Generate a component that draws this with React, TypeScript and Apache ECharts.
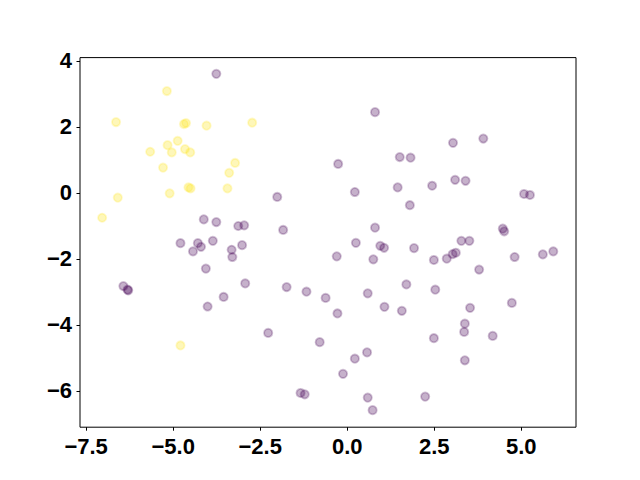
import React, { useEffect, useRef } from "react";
import * as echarts from "echarts";

// Class 1 (yellow) points [x, y]
const yellowPoints: [number, number][] = [
  [-5.18, 3.09], [-6.64, 2.15], [-4.69, 2.09], [-4.63, 2.12], [-4.04, 2.04],
  [-2.73, 2.13], [-5.16, 1.45], [-4.87, 1.58], [-5.66, 1.25], [-5.04, 1.23],
  [-4.66, 1.33], [-4.51, 1.23], [-5.29, 0.77], [-3.22, 0.91], [-3.39, 0.61],
  [-4.56, 0.17], [-4.50, 0.14], [-3.44, 0.14], [-5.10, -0.01], [-6.59, -0.14],
  [-7.04, -0.75], [-4.79, -4.62],
];

// Class 0 (purple) points [x, y]
const purplePoints: [number, number][] = [
  [-3.76, 3.61], [0.80, 2.45], [-0.26, 0.88], [1.51, 1.09], [1.82, 1.07],
  [0.22, 0.03], [1.45, 0.17], [-2.01, -0.12], [1.80, -0.37], [-4.12, -0.80],
  [-3.76, -0.88], [-3.13, -1.00], [-2.96, -0.98], [-1.84, -1.12], [0.80, -1.05],
  [-4.79, -1.52], [-4.29, -1.52], [-4.20, -1.63], [-4.43, -1.77], [-3.86, -1.45],
  [-3.32, -1.72], [-3.30, -1.94], [-3.02, -1.58], [0.25, -1.51], [0.95, -1.60],
  [1.06, -1.66], [1.92, -1.67], [-0.30, -1.92], [0.75, -2.01], [-4.06, -2.29],
  [-6.43, -2.82], [-6.31, -2.93], [-6.29, -2.95], [-2.93, -2.74], [-3.55, -3.15],
  [-4.01, -3.44], [-1.74, -2.85], [-1.17, -2.99], [-0.62, -3.18], [0.59, -3.04],
  [1.70, -2.77], [1.07, -3.45], [1.57, -3.57], [-0.28, -3.65], [-2.27, -4.24],
  [-0.79, -4.52], [0.57, -4.83], [0.22, -5.02], [-0.12, -5.48], [-1.34, -6.06],
  [-1.22, -6.10], [0.59, -6.20], [0.73, -6.58], [3.04, 1.52], [3.91, 1.65],
  [3.10, 0.40], [3.40, 0.37], [2.44, 0.22], [5.08, -0.03], [5.25, -0.06],
  [4.47, -1.08], [4.51, -1.16], [3.28, -1.45], [3.51, -1.45], [2.49, -2.03],
  [2.86, -1.99], [3.03, -1.85], [3.12, -1.81], [4.81, -1.94], [5.62, -1.86],
  [5.92, -1.77], [3.79, -2.32], [2.53, -2.93], [3.53, -3.48], [4.73, -3.33],
  [3.38, -3.96], [3.36, -4.21], [2.49, -4.40], [4.18, -4.33], [3.38, -5.07],
  [2.24, -6.17],
];

const xTicks = [-7.5, -5.0, -2.5, 0.0, 2.5, 5.0];
const yTicks = [-6, -4, -2, 0, 2, 4];

const fmt = (v: number, digits: number) =>
  v.toFixed(digits).replace("-", "\u2212");

export default function App() {
  const ref = useRef<HTMLDivElement>(null);
  useEffect(() => {
    document.body.style.margin = "0";
    if (!ref.current) return;
    const chart = echarts.init(ref.current, undefined, { renderer: "svg" });
    const labelStyle = {
      color: "#000",
      fontSize: 22,
      fontWeight: "bold" as const,
      fontFamily: "Liberation Sans, Arial, sans-serif",
    };
    const tickStyle = { show: true, inside: false, length: 3.5, lineStyle: { color: "#000", width: 1 } };
    chart.setOption({
      animation: false,
      backgroundColor: "#fff",
      grid: {
        left: 80,
        right: 64,
        top: 57.6,
        bottom: 52.8,
        show: true,
        borderColor: "#000",
        borderWidth: 1,
        backgroundColor: "transparent",
      },
      xAxis: {
        type: "value",
        min: -7.676,
        max: 6.573,
        splitLine: { show: false },
        axisLine: { show: false, onZero: false },
        axisTick: { ...tickStyle, customValues: xTicks },
        axisLabel: {
          ...labelStyle,
          margin: 8,
          customValues: xTicks,
          formatter: (v: number) => fmt(v, 1),
        },
      },
      yAxis: {
        type: "value",
        min: -7.097,
        max: 4.103,
        splitLine: { show: false },
        axisLine: { show: false, onZero: false },
        axisTick: { ...tickStyle, customValues: yTicks },
        axisLabel: {
          ...labelStyle,
          margin: 8,
          customValues: yTicks,
          formatter: (v: number) => fmt(v, 0),
        },
      },
      series: [
        {
          type: "scatter",
          data: purplePoints,
          symbol: "circle",
          symbolSize: 8.3,
          itemStyle: {
            color: "rgba(68,1,84,0.38)",
            borderColor: "rgba(68,1,84,0.3)",
            borderWidth: 1.8,
          },
        },
        {
          type: "scatter",
          data: yellowPoints,
          symbol: "circle",
          symbolSize: 8.3,
          itemStyle: {
            color: "rgba(253,231,37,0.4)",
            borderColor: "rgba(253,231,37,0.3)",
            borderWidth: 1.8,
          },
        },
      ],
    });
    return () => chart.dispose();
  }, []);
  return <div ref={ref} style={{ width: 640, height: 480 }} />;
}
